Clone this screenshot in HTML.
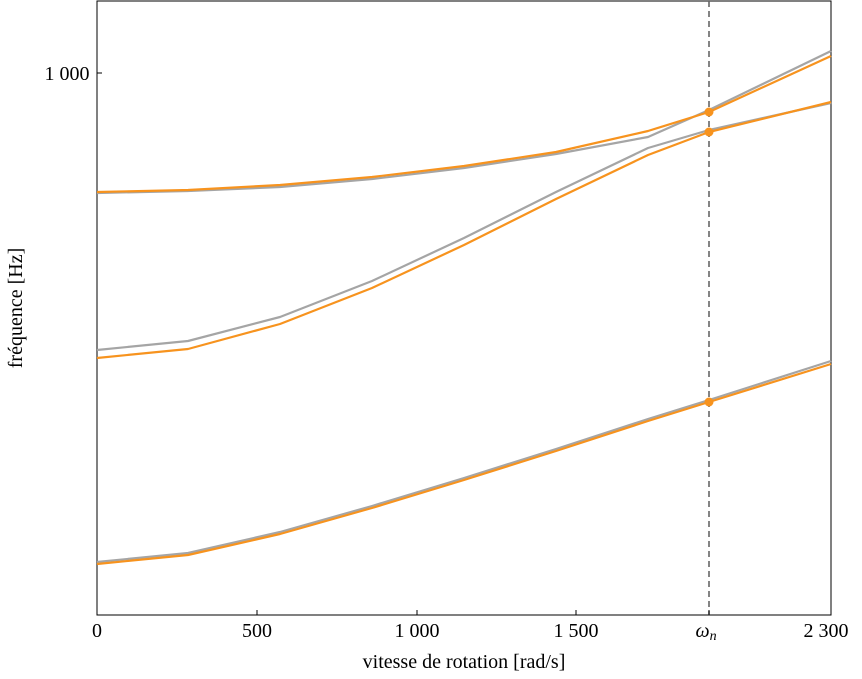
<!DOCTYPE html>
<html><head><meta charset="utf-8"><style>
body{margin:0;background:#fff;}
svg{display:block;font-family:"Liberation Serif",serif;}
</style></head><body>
<svg width="862" height="679" viewBox="0 0 862 679" xmlns="http://www.w3.org/2000/svg">
<rect x="97" y="1" width="734" height="614" fill="none" stroke="#000" stroke-width="1"/>
<line x1="709" y1="1" x2="709" y2="615" stroke="#666" stroke-width="1.6" stroke-dasharray="6,4"/>
<g fill="none" stroke-width="2.2" stroke-linejoin="round">
<polyline stroke="#a5a5a5" points="97,193 188,191 280,187 372,179 464,168 556,154 648,137 709,110 831,51"/>
<polyline stroke="#a5a5a5" points="97,350 188,341 280,317 372,281 464,238 556,192 648,148 709,130 831,103"/>
<polyline stroke="#a5a5a5" points="97,562 188,553 280,532 372,506 464,478 556,449 648,419 709,400 831,361"/>
<polyline stroke="#f7931e" points="97,192 188,190 280,185 372,177 464,166 556,152 648,131 709,112 831,56"/>
<polyline stroke="#f7931e" points="97,358 188,349 280,324 372,288 464,245 556,199 648,155 709,132 831,102"/>
<polyline stroke="#f7931e" points="97,564 188,555 280,534 372,508 464,480 556,451 648,421 709,402 831,364"/>
</g>
<g fill="#f7931e"><circle cx="709" cy="112" r="4.5"/><circle cx="709" cy="132" r="4.5"/><circle cx="709" cy="402" r="4.5"/></g>
<g stroke="#000" stroke-width="1">
<line x1="97" y1="73" x2="102" y2="73"/>
<line x1="257" y1="615" x2="257" y2="610"/><line x1="417" y1="615" x2="417" y2="610"/>
<line x1="576" y1="615" x2="576" y2="610"/><line x1="709" y1="615" x2="709" y2="610"/>
</g>
<g font-size="20" text-anchor="middle">
<text x="97" y="637">0</text><text x="257" y="637">500</text><text x="417" y="637">1 000</text>
<text x="576" y="637">1 500</text><text x="706" y="637" font-style="italic">ω<tspan font-size="14" dy="3">n</tspan></text>
<text x="826" y="637">2 300</text>
<text x="464" y="668">vitesse de rotation [rad/s]</text>
<text x="67" y="80">1 000</text>
<text transform="translate(22,308) rotate(-90)">fréquence [Hz]</text>
</g>
</svg>
</body></html>
